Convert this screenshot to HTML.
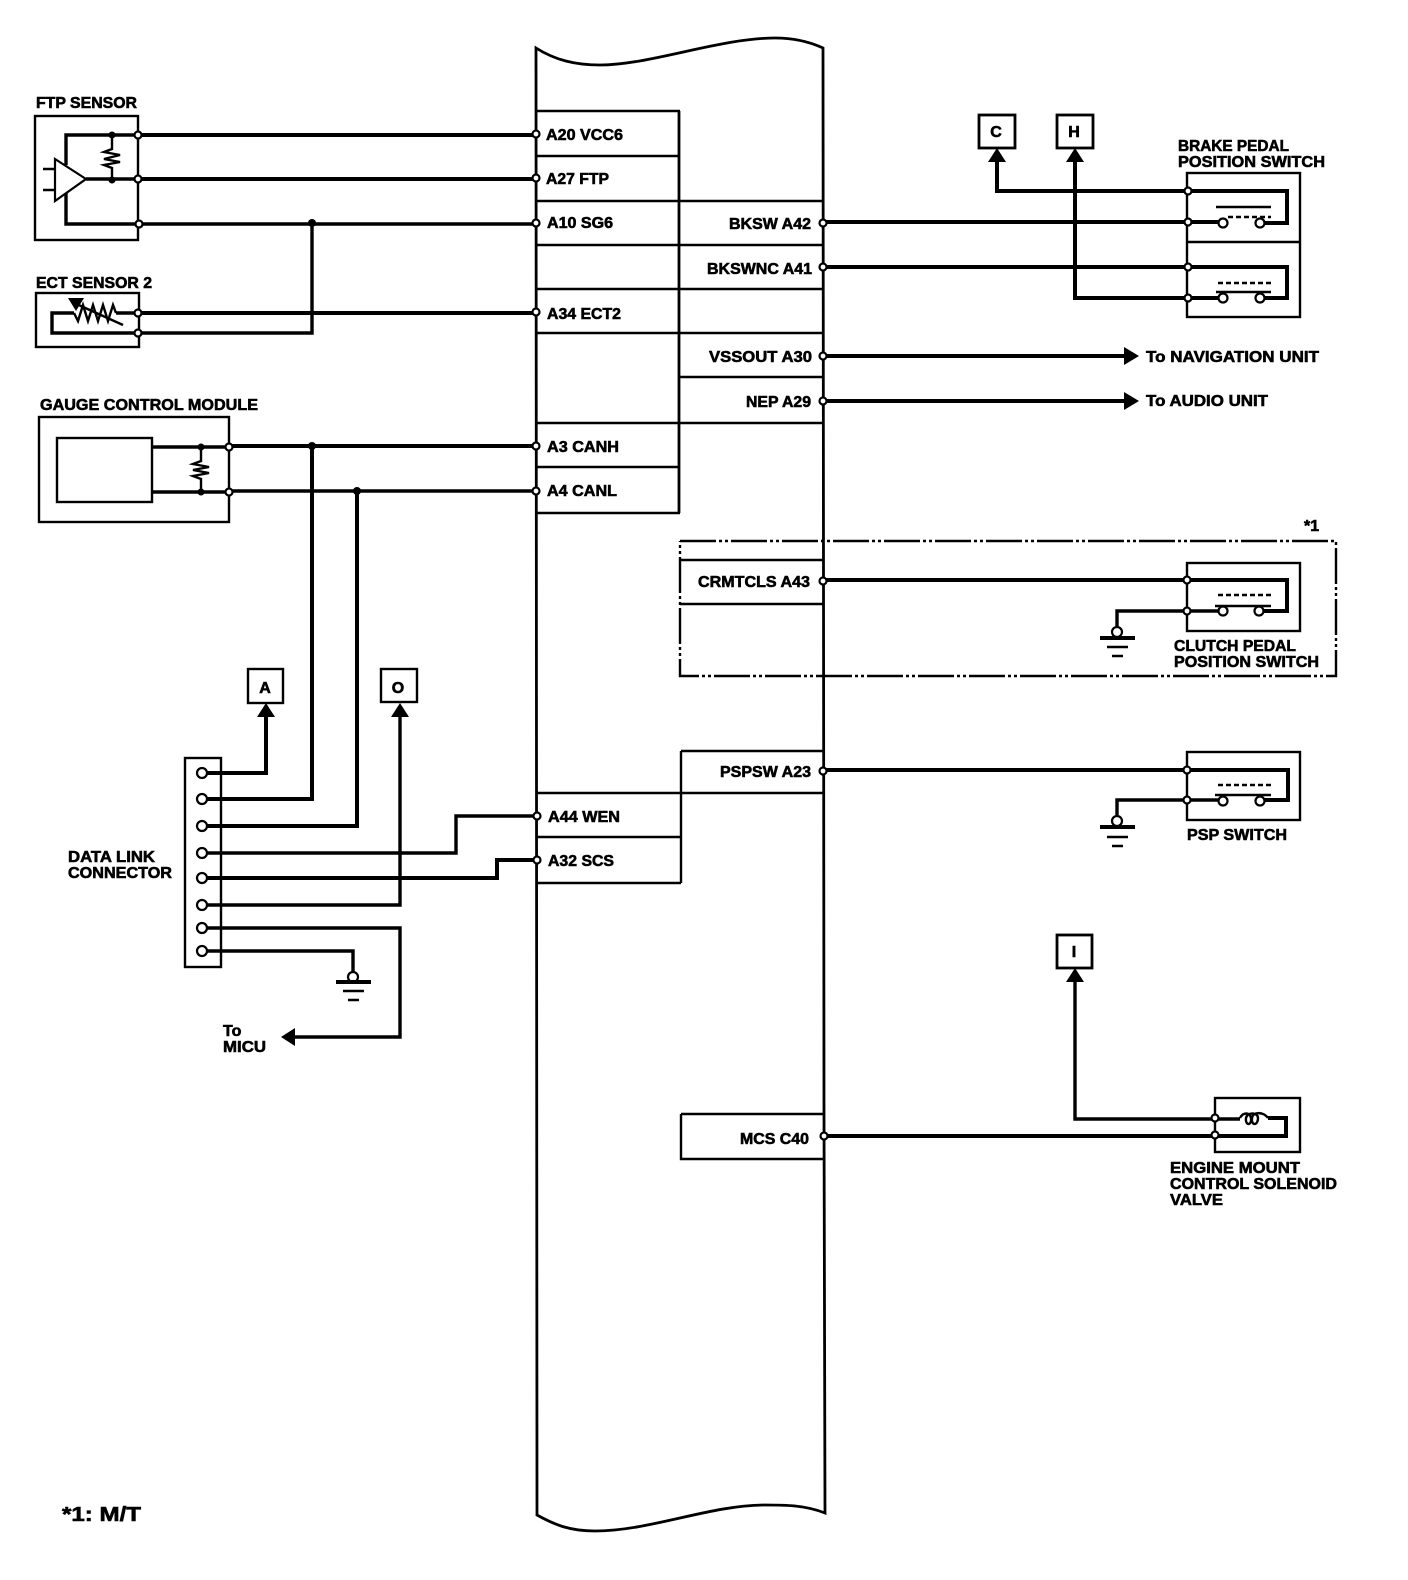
<!DOCTYPE html>
<html>
<head>
<meta charset="utf-8">
<style>
html,body{margin:0;padding:0;background:#fff;}
svg{display:block;}
text{font-family:"Liberation Sans",sans-serif;font-weight:bold;font-size:16px;fill:#000;stroke:#000;stroke-width:.6px;}
.t{fill:none;stroke:#000;stroke-width:2.4;}
.w{fill:none;stroke:#000;stroke-width:4;stroke-linejoin:miter;}
.n{fill:none;stroke:#000;stroke-width:3.4;}
.p{fill:#fff;stroke:#000;stroke-width:2.2;}
.a{fill:#000;stroke:none;}
</style>
</head>
<body>
<svg width="1408" height="1580" viewBox="0 0 1408 1580" xmlns="http://www.w3.org/2000/svg">
<!-- main body -->
<path class="t" style="stroke-width:2.8" d="M536 48 C555 60 575 65 600 65 C650 65 720 38 775 38 C795 38 810 42 823 48 L824 1114 L825 1513 C805 1505 785 1505 765 1505 C710 1505 650 1531 595 1531 C570 1531 555 1525 537 1515 L536 48 Z"/>
<!-- left/right table -->
<g class="t">
<path class="t" d="M536 111H680M536 156H680M536 201H823M536 245H823M536 289H823M536 333H823M680 377H823M536 423H823M536 467H680M536 513H680"/>
<path class="t" style="stroke-width:2.8" d="M679 111V513"/>
<path class="t" d="M681 751H823M681 751V883M537 793H824M537 837H681M537 883H681"/>
<path class="t" d="M680 560H823M680 604H823"/>
<path class="t" d="M681 1114H824M681 1114V1159H824"/>
<path class="t" stroke-dasharray="36 3 3 3 3 3" d="M680 541H1336V676H680V541"/>
</g>
<!-- FTP sensor -->
<rect class="t" x="35" y="116" width="103" height="124"/>
<path class="n" d="M66 165V135H138M66 193V224H138"/>
<path class="p" d="M55 159V201L86 179Z"/>
<path class="t" d="M43 169H55M43 190H55"/>
<path class="n" d="M86 179H138"/>
<path class="t" d="M112 135V149L104 152L120 155L104 159L120 162L104 165L112 168V180"/>
<circle class="a" cx="112" cy="135" r="3.5"/><circle class="a" cx="112" cy="180" r="3.5"/>
<path class="w" d="M138 135H536M138 179H536"/>
<path class="n" d="M138 224H536"/>
<!-- ECT sensor -->
<rect class="t" x="36" y="293" width="103" height="54"/>
<path class="n" d="M74 313H52V333H138M116 313H138"/>
<path class="t" d="M74 313L78 321L83 305L88 321L93 305L98 321L103 305L108 321L113 305L116 313"/>
<path class="t" d="M72 302L123 325"/>
<path class="a" d="M68 298H84L76 311Z"/>
<path class="w" d="M138 313H536"/>
<path class="n" d="M138 333H312V223"/>
<circle class="a" cx="312" cy="223" r="4"/>
<!-- gauge -->
<rect class="t" x="39" y="417" width="190" height="105"/>
<rect class="t" x="57" y="438" width="95" height="64"/>
<path class="n" d="M152 447H229M152 492H229"/>
<path class="t" d="M201 447V461L193 464L209 467L193 470L209 473L193 476L201 479V492"/>
<circle class="a" cx="201" cy="447" r="3.5"/><circle class="a" cx="201" cy="492" r="3.5"/>
<path class="w" d="M229 446H536"/>
<path class="n" d="M229 491H536"/>
<circle class="a" cx="312" cy="446" r="4"/><circle class="a" cx="357" cy="491" r="4"/>
<path class="w" d="M207 799H312V446M207 826H357V491M207 773H266V715"/>
<path class="n" d="M207 853H456V816H536"/>
<path class="w" d="M207 878H497V860H536"/>
<path class="n" d="M207 905H400V715M207 928H400V1037H292M207 951H353V972"/>
<path class="a" d="M266 703L275 717H257ZM400 703L409 717H391ZM281 1037L295 1028V1046Z"/>
<!-- DLC -->
<rect class="t" x="185" y="758" width="36" height="209"/>
<circle class="p" cx="202" cy="773" r="5"/><circle class="p" cx="202" cy="799" r="5"/><circle class="p" cx="202" cy="826" r="5"/><circle class="p" cx="202" cy="853" r="5"/><circle class="p" cx="202" cy="878" r="5"/><circle class="p" cx="202" cy="905" r="5"/><circle class="p" cx="202" cy="928" r="5"/><circle class="p" cx="202" cy="951" r="5"/>
<!-- ground DLC -->
<circle class="p" cx="353" cy="977" r="5"/>
<path class="a" d="M336 980H371V984H336Z"/>
<path class="t" d="M343 991H364M348 1000H359"/>
<!-- connector boxes -->
<rect class="t" x="248" y="669" width="35" height="34"/>
<rect class="t" x="381" y="669" width="36" height="33"/>
<rect class="t" style="stroke-width:2.8" x="979" y="115" width="36" height="33"/>
<rect class="t" style="stroke-width:2.8" x="1057" y="115" width="36" height="33"/>
<rect class="t" style="stroke-width:2.8" x="1057" y="935" width="35" height="33"/>
<!-- brake switch -->
<rect class="t" x="1187" y="173" width="113" height="144"/>
<path class="t" d="M1187 242H1300"/>
<path class="w" d="M823 222H1223M1260 223H1287V191H997V160M823 267H1287V298H1260M1223 298H1075V160"/>
<path class="a" d="M997 148L1006 162H988ZM1075 148L1084 162H1066Z"/>
<path class="t" d="M1216 207H1271M1216 292H1271"/>
<path class="t" stroke-dasharray="5 3" d="M1228 217H1271M1218 283H1271"/>
<!-- arrows -->
<path class="w" d="M823 356H1125M823 401H1125"/>
<path class="a" d="M1139 356L1124 347V365ZM1139 401L1124 392V410Z"/>
<!-- clutch -->
<rect class="t" x="1187" y="563" width="113" height="68"/>
<path class="w" d="M823 580H1287V611H1260"/>
<path class="n" d="M1223 611H1117V628"/>
<path class="t" d="M1215 606H1271"/>
<path class="t" stroke-dasharray="5 3" d="M1218 595H1271"/>
<circle class="p" cx="1117" cy="632" r="5"/>
<path class="a" d="M1100 636H1135V640H1100Z"/>
<path class="t" d="M1107 647H1128M1112 656H1123"/>
<!-- PSP -->
<rect class="t" x="1187" y="752" width="113" height="68"/>
<path class="w" d="M823 770H1288V800H1260"/>
<path class="n" d="M1223 800H1117V817"/>
<path class="t" d="M1215 795H1271"/>
<path class="t" stroke-dasharray="5 3" d="M1218 785H1271"/>
<circle class="p" cx="1117" cy="821" r="5"/>
<path class="a" d="M1100 825H1135V829H1100Z"/>
<path class="t" d="M1107 837H1128M1112 846H1123"/>
<!-- solenoid -->
<rect class="t" x="1215" y="1098" width="85" height="54"/>
<path class="w" d="M825 1136H1286V1118H1268"/>
<path class="n" d="M1075 982V1119H1240"/>
<path class="t" d="M1240 1118C1243 1112 1250 1112 1251 1118C1252 1126 1245 1126 1246 1118C1247 1112 1258 1112 1258 1118C1258 1126 1251 1126 1252 1118C1253 1111 1264 1112 1268 1118"/>
<path class="a" d="M1075 968L1084 982H1066Z"/>
<!-- switch contacts -->
<circle class="p" cx="1223" cy="223" r="4.5"/><circle class="p" cx="1260" cy="223" r="4.5"/>
<circle class="p" cx="1223" cy="298" r="4.5"/><circle class="p" cx="1260" cy="298" r="4.5"/>
<circle class="p" cx="1223" cy="611" r="4.5"/><circle class="p" cx="1259" cy="611" r="4.5"/>
<circle class="p" cx="1223" cy="801" r="4.5"/><circle class="p" cx="1260" cy="801" r="4.5"/>
<!-- pins -->
<g>
<circle class="p" cx="138" cy="135" r="3.5"/><circle class="p" cx="138" cy="179" r="3.5"/><circle class="p" cx="139" cy="224" r="3.5"/>
<circle class="p" cx="138" cy="313" r="3.5"/><circle class="p" cx="138" cy="333" r="3.5"/>
<circle class="p" cx="229" cy="447" r="3.5"/><circle class="p" cx="229" cy="492" r="3.5"/>
<circle class="p" cx="536" cy="134" r="3.5"/><circle class="p" cx="536" cy="178" r="3.5"/><circle class="p" cx="536" cy="223" r="3.5"/><circle class="p" cx="536" cy="312" r="3.5"/><circle class="p" cx="536" cy="446" r="3.5"/><circle class="p" cx="536" cy="491" r="3.5"/><circle class="p" cx="537" cy="816" r="3.5"/><circle class="p" cx="537" cy="860" r="3.5"/>
<circle class="p" cx="823" cy="223" r="3.5"/><circle class="p" cx="823" cy="267" r="3.5"/><circle class="p" cx="823" cy="356" r="3.5"/><circle class="p" cx="823" cy="401" r="3.5"/><circle class="p" cx="823" cy="581" r="3.5"/><circle class="p" cx="823" cy="771" r="3.5"/><circle class="p" cx="824" cy="1136" r="3.5"/>
<circle class="p" cx="1188" cy="191" r="3.5"/><circle class="p" cx="1188" cy="222" r="3.5"/><circle class="p" cx="1188" cy="267" r="3.5"/><circle class="p" cx="1188" cy="298" r="3.5"/>
<circle class="p" cx="1187" cy="580" r="3.5"/><circle class="p" cx="1187" cy="611" r="3.5"/>
<circle class="p" cx="1187" cy="770" r="3.5"/><circle class="p" cx="1187" cy="800" r="3.5"/>
<circle class="p" cx="1215" cy="1118" r="3.5"/><circle class="p" cx="1215" cy="1135" r="3.5"/>
</g>
<!-- labels -->
<text x="36" y="108" textLength="101" lengthAdjust="spacingAndGlyphs">FTP SENSOR</text>
<text x="36" y="288" textLength="116" lengthAdjust="spacingAndGlyphs">ECT SENSOR 2</text>
<text x="40" y="410" textLength="218" lengthAdjust="spacingAndGlyphs">GAUGE CONTROL MODULE</text>
<text x="546" y="140" textLength="77" lengthAdjust="spacingAndGlyphs">A20 VCC6</text>
<text x="546" y="184" textLength="63" lengthAdjust="spacingAndGlyphs">A27 FTP</text>
<text x="547" y="228" textLength="66" lengthAdjust="spacingAndGlyphs">A10 SG6</text>
<text x="547" y="319" textLength="74" lengthAdjust="spacingAndGlyphs">A34 ECT2</text>
<text x="547" y="452" textLength="72" lengthAdjust="spacingAndGlyphs">A3 CANH</text>
<text x="547" y="496" textLength="70" lengthAdjust="spacingAndGlyphs">A4 CANL</text>
<text x="548" y="822" textLength="72" lengthAdjust="spacingAndGlyphs">A44 WEN</text>
<text x="548" y="866" textLength="66" lengthAdjust="spacingAndGlyphs">A32 SCS</text>
<text x="729" y="229" textLength="82" lengthAdjust="spacingAndGlyphs">BKSW A42</text>
<text x="707" y="274" textLength="105" lengthAdjust="spacingAndGlyphs">BKSWNC A41</text>
<text x="709" y="362" textLength="103" lengthAdjust="spacingAndGlyphs">VSSOUT A30</text>
<text x="746" y="407" textLength="65" lengthAdjust="spacingAndGlyphs">NEP A29</text>
<text x="698" y="587" textLength="112" lengthAdjust="spacingAndGlyphs">CRMTCLS A43</text>
<text x="720" y="777" textLength="91" lengthAdjust="spacingAndGlyphs">PSPSW A23</text>
<text x="740" y="1144" textLength="69" lengthAdjust="spacingAndGlyphs">MCS C40</text>
<text x="1178" y="151" textLength="111" lengthAdjust="spacingAndGlyphs">BRAKE PEDAL</text>
<text x="1178" y="167" textLength="147" lengthAdjust="spacingAndGlyphs">POSITION SWITCH</text>
<text x="1146" y="362" textLength="173" lengthAdjust="spacingAndGlyphs">To NAVIGATION UNIT</text>
<text x="1146" y="406" textLength="122" lengthAdjust="spacingAndGlyphs">To AUDIO UNIT</text>
<text x="1304" y="531">*1</text>
<text x="1174" y="651" textLength="122" lengthAdjust="spacingAndGlyphs">CLUTCH PEDAL</text>
<text x="1174" y="667" textLength="145" lengthAdjust="spacingAndGlyphs">POSITION SWITCH</text>
<text x="1187" y="840" textLength="100" lengthAdjust="spacingAndGlyphs">PSP SWITCH</text>
<text x="1170" y="1173" textLength="130" lengthAdjust="spacingAndGlyphs">ENGINE MOUNT</text>
<text x="1170" y="1189" textLength="167" lengthAdjust="spacingAndGlyphs">CONTROL SOLENOID</text>
<text x="1170" y="1205" textLength="53" lengthAdjust="spacingAndGlyphs">VALVE</text>
<text x="68" y="862" textLength="87" lengthAdjust="spacingAndGlyphs">DATA LINK</text>
<text x="68" y="878" textLength="104" lengthAdjust="spacingAndGlyphs">CONNECTOR</text>
<text x="223" y="1036">To</text>
<text x="223" y="1052" textLength="43" lengthAdjust="spacingAndGlyphs">MICU</text>
<text x="996" y="137" text-anchor="middle">C</text>
<text x="1074" y="137" text-anchor="middle">H</text>
<text x="1074" y="957" text-anchor="middle">I</text>
<text x="265" y="693" text-anchor="middle">A</text>
<text x="398" y="693" text-anchor="middle">O</text>
<text x="62" y="1521" style="font-size:20px" textLength="79" lengthAdjust="spacingAndGlyphs">*1: M/T</text>
</svg>
</body>
</html>
